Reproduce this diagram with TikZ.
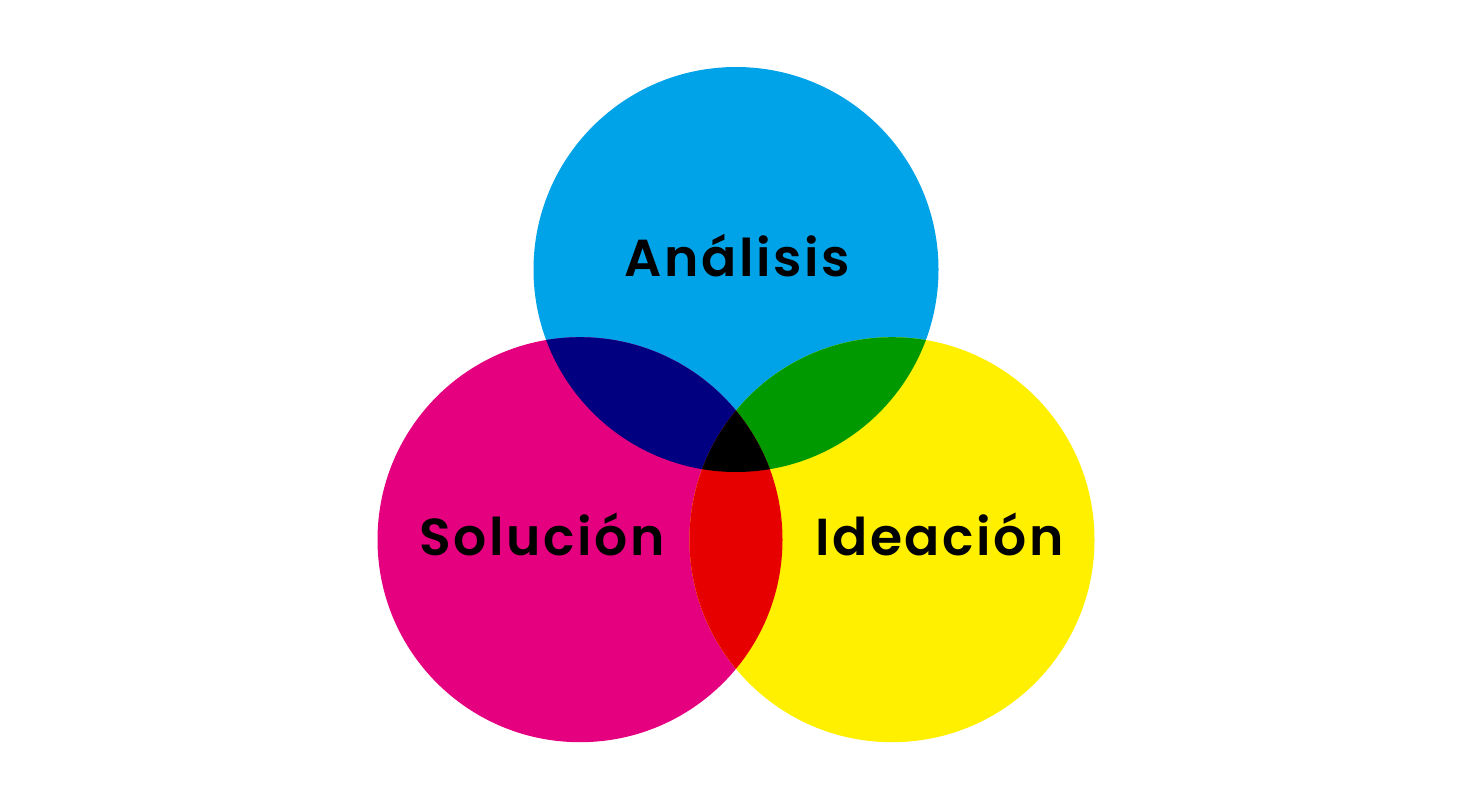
\documentclass[tikz,border=0pt]{standalone}
\usepackage{fontspec}
\setmainfont{Poppins}
\newfontfamily\lblfont{Poppins SemiBold}[LetterSpace=5]
\definecolor{cyanc}{RGB}{0,163,232}
\definecolor{magc}{RGB}{228,0,127}
\definecolor{yelc}{RGB}{255,240,0}
\definecolor{navyc}{RGB}{0,0,128}
\definecolor{greenc}{RGB}{0,154,0}
\definecolor{redc}{RGB}{230,0,0}
\tikzset{
  lbl/.style={font=\lblfont\fontsize{52}{56}\selectfont, text=black, inner sep=0pt},
}
\begin{document}
\begin{tikzpicture}[x=1pt,y=-1pt]
\useasboundingbox (0,0) rectangle (1477,800);
\fill[white] (0,0) rectangle (1477,800);
\def\rr{202.5pt}
\coordinate (T) at (736,269.5);
\coordinate (L) at (580,539.7);
\coordinate (R) at (892,539.7);
\fill[cyanc] (T) circle[radius=\rr];
\fill[magc] (L) circle[radius=\rr];
\fill[yelc] (R) circle[radius=\rr];
\begin{scope}
  \clip (L) circle[radius=\rr];
  \fill[navyc] (T) circle[radius=\rr];
\end{scope}
\begin{scope}
  \clip (R) circle[radius=\rr];
  \fill[greenc] (T) circle[radius=\rr];
\end{scope}
\begin{scope}
  \clip (L) circle[radius=\rr];
  \fill[redc] (R) circle[radius=\rr];
\end{scope}
\begin{scope}
  \clip (L) circle[radius=\rr];
  \clip (R) circle[radius=\rr];
  \fill[black] (T) circle[radius=\rr];
\end{scope}
\node[lbl, anchor=base] (ana) at (737,276) {Análisis};
\node[lbl, anchor=base west] (sol) at (419,555) {Solución};
\node[lbl, anchor=base east] (ide) at (1064,555) {Ideación};
\end{tikzpicture}
\end{document}
